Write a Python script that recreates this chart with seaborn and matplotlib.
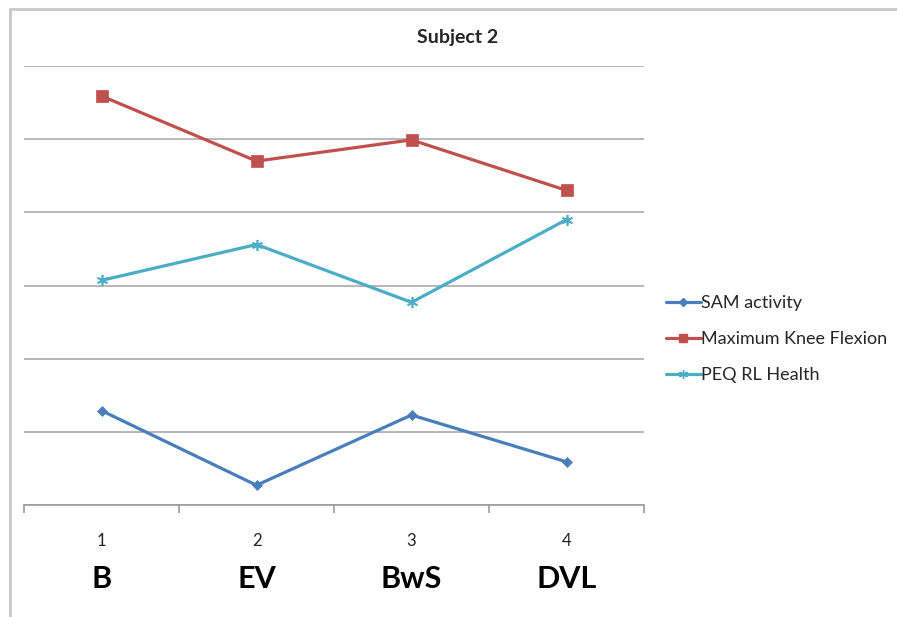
import pandas as pd
import matplotlib.pyplot as plt
import matplotlib.transforms as mtransforms
from matplotlib.lines import Line2D
import seaborn as sns

# Values (y axis has no labels, grid step = 1)
positions = [1, 2, 3, 4]
conditions = ['B', 'EV', 'BwS', 'DVL']
sam_activity = [1.29, 0.27, 1.23, 0.59]
knee_flexion = [5.59, 4.70, 4.99, 4.30]
peq_health = [3.07, 3.56, 2.77, 3.90]
series_names = ['SAM activity', 'Maximum Knee Flexion', 'PEQ RL Health']

df = pd.DataFrame({
    'pos': positions * 3,
    'value': sam_activity + knee_flexion + peq_health,
    'series': [s for s in series_names for _ in positions],
})

sns.set_style('white')
plt.rcParams['font.family'] = ['Lato', 'DejaVu Sans']

colors = ['#4A7EBB', '#C0504D', '#4BACC6']
markers = {'SAM activity': 'D', 'Maximum Knee Flexion': 's', 'PEQ RL Health': (6, 2, 0)}
msizes = [5, 8, 8]

fig = plt.figure(figsize=(8.97, 6.17), dpi=100)
ax = fig.add_axes([24 / 897, 1 - 505 / 617, 620 / 897, 439 / 617])

for name, c, ms in zip(series_names, colors, msizes):
    sub = df[df['series'] == name]
    sns.lineplot(data=sub, x='pos', y='value', ax=ax, color=c, linewidth=2.3,
                 marker=markers[name], markersize=ms, markeredgecolor=c,
                 markeredgewidth=1.2 if name == 'PEQ RL Health' else 0.5)

ax.set_xlim(0.5, 4.5)
ax.set_ylim(0, 6)
ax.set_yticks(range(0, 7))
ax.set_yticklabels([])
ax.yaxis.grid(True, color='#ABABAB', linewidth=1.2)
ax.tick_params(axis='y', length=0)
for side in ['top', 'right', 'left']:
    ax.spines[side].set_visible(False)
ax.spines['bottom'].set_color('#9A9A9A')
ax.spines['bottom'].set_linewidth(1.2)

ax.set_xticks([0.5, 1.5, 2.5, 3.5, 4.5])
ax.set_xticklabels([])
ax.tick_params(axis='x', which='major', direction='out', length=6, color='#9A9A9A', width=1.2, bottom=True)
ax.set_xticks(positions, minor=True)
ax.set_xticklabels([str(p) for p in positions], minor=True, fontsize=12, color='#222222')
ax.tick_params(axis='x', which='minor', length=0, pad=20)
ax.set_xlabel('')
ax.set_ylabel('')

trans = mtransforms.blended_transform_factory(ax.transData, fig.transFigure)
for p, lab in zip(positions, conditions):
    ax.text(p, 1 - 579 / 617, lab, transform=trans, ha='center', va='center',
            fontsize=22, fontweight='bold', color='black')

fig.text(458 / 897, 1 - 38 / 617, 'Subject 2', ha='center', va='center',
         fontsize=14, fontweight='bold')

handles = [Line2D([], [], color=c, linewidth=2.3, marker=markers[n], markersize=ms * 0.8,
                  markeredgecolor=c) for n, c, ms in zip(series_names, colors, msizes)]
fig.legend(handles, series_names, loc='center left', bbox_to_anchor=(650 / 897, 1 - 339 / 617),
           frameon=False, fontsize=13, handlelength=1.9, handletextpad=0.05, labelspacing=1.1)

# outer chart frame
fig.add_artist(Line2D([10 / 897, 10 / 897], [0, 1 - 9 / 617], transform=fig.transFigure,
                      color='#C8C8C8', linewidth=2))
fig.add_artist(Line2D([10 / 897, 1], [1 - 9 / 617, 1 - 9 / 617], transform=fig.transFigure,
                      color='#C8C8C8', linewidth=2))

fig.savefig('out.png', dpi=100)
